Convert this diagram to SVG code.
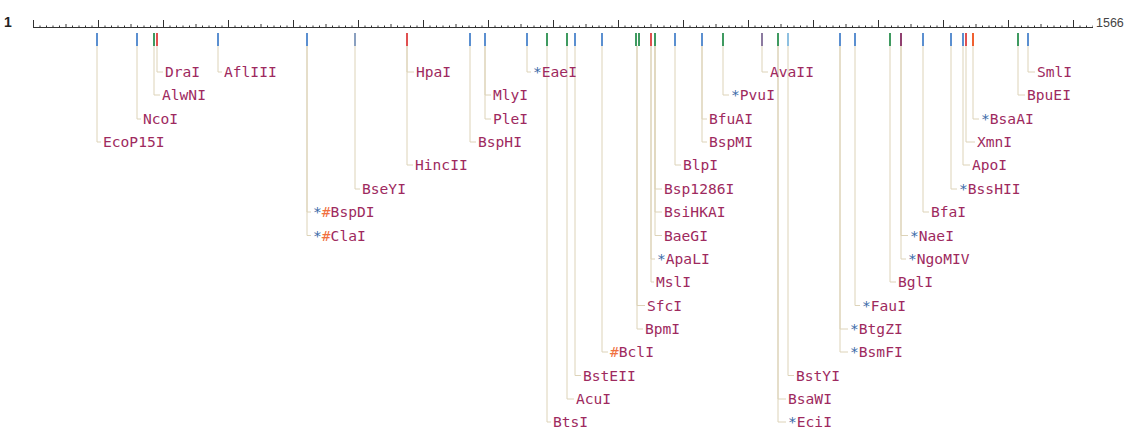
<svg xmlns="http://www.w3.org/2000/svg" width="1125" height="430" viewBox="0 0 1125 430">
<style>
.l{font-family:"DejaVu Sans Mono","Liberation Mono",monospace;font-size:14.6px;fill:#9e2a5e}
.s{fill:#3a6aa8}
.h{fill:#f07040}
.r{font-family:"Liberation Sans",Arial,sans-serif;font-size:12.5px;fill:#444}
.one{font-family:"Liberation Sans",Arial,sans-serif;font-size:14px;font-weight:bold;fill:#222}
.c{fill:none;stroke:#ddd3b8;stroke-width:1}
.t{stroke-width:2}
.b{stroke:#5b8fd0}.g{stroke:#3f9a60}.rd{stroke:#e05050}.p{stroke:#904070}.o{stroke:#f06030}.lb{stroke:#8ec0e0}.gb{stroke:#8aa0c0}.pg{stroke:#8c7aa0}
</style>
<defs>
<pattern id="ruler" patternUnits="userSpaceOnUse" x="33" y="19" width="65" height="9">
<path d="M0.5 1V8M7 6.5V8M13.5 6.5V8M20 6.5V8M26.5 6.5V8M33 5V8M39.5 6.5V8M46 6.5V8M52.5 6.5V8M59 6.5V8" stroke="#333" stroke-width="1"/>
</pattern>
</defs>
<rect width="1125" height="430" fill="#fff"/>
<g id="ruler-group">
<rect x="33" y="19" width="1060" height="9" fill="url(#ruler)"/>
<line x1="33" y1="27.5" x2="1093" y2="27.5" stroke="#333" stroke-width="1"/>
<text class="one" x="4" y="27">1</text>
<text class="r" x="1096" y="27">1566</text>
</g>
<g id="connectors">
<path class="c" d="M157 46V72H163M218 46V72H222M407 46V72H414M527 46V72H531M762 46V72H768M1028 46V72H1035"/>
<path class="c" d="M154 46V95H160M485 46V95H491M723 46V95H729M1018 46V95H1025"/>
<path class="c" d="M137 46V119H141M485 46V119H491M702 46V119H707M973 46V119H979"/>
<path class="c" d="M97 46V142H101M470 46V142H476M702 46V142H707M966 46V142H975"/>
<path class="c" d="M407 46V165H413M675 46V165H681M963 46V165H970"/>
<path class="c" d="M355 46V189H360M655 46V189H662M951 46V189H957"/>
<path class="c" d="M307 46V212H311M655 46V212H662M923 46V212H929"/>
<path class="c" d="M307 46V235.5H311M655 46V235.5H662M901 46V235.5H908"/>
<path class="c" d="M651 46V259H655M901 46V259H906"/>
<path class="c" d="M651 46V282H654M890 46V282H896"/>
<path class="c" d="M637 46V305.5H645M855 46V305.5H860"/>
<path class="c" d="M637 46V329H643M840 46V329H848"/>
<path class="c" d="M602 46V352H608M840 46V352H848"/>
<path class="c" d="M575 46V375.5H581M788 46V375.5H794"/>
<path class="c" d="M567 46V399H574M778 46V399H786"/>
<path class="c" d="M547 46V422H551M778 46V422H786"/>
<g class="t">
<path class="b" d="M97 33V46M137 33V46M218 33V46M307 33V46M470 33V46M485 33V46M527 33V46M575 33V46M602 33V46M675 33V46M702 33V46M840 33V46M855 33V46M923 33V46M951 33V46M963 33V46M1028 33V46"/>
<path class="g" d="M154 33V46M547 33V46M567 33V46M636 33V46M639 33V46M655 33V46M723 33V46M778 33V46M890 33V46M1018 33V46"/>
<path class="rd" d="M157 33V46M407 33V46M651 33V46M966 33V46"/>
<path class="o" d="M973 33V46"/>
<path class="p" d="M901 33V46"/>
<path class="lb" d="M788 33V46"/>
<path class="gb" d="M355 33V46"/>
<path class="pg" d="M762 33V46"/>
</g>
</g>
<g id="DraI"><text class="l" x="165" y="77">DraI</text></g>
<g id="AflIII"><text class="l" x="224" y="77">AflIII</text></g>
<g id="HpaI"><text class="l" x="416" y="77">HpaI</text></g>
<g id="EaeI"><text class="l" x="533" y="77"><tspan class="s">*</tspan>EaeI</text></g>
<g id="AvaII"><text class="l" x="770" y="77">AvaII</text></g>
<g id="SmlI"><text class="l" x="1037" y="77">SmlI</text></g>
<g id="AlwNI"><text class="l" x="162" y="100">AlwNI</text></g>
<g id="MlyI"><text class="l" x="493" y="100">MlyI</text></g>
<g id="PvuI"><text class="l" x="731" y="100"><tspan class="s">*</tspan>PvuI</text></g>
<g id="BpuEI"><text class="l" x="1027" y="100">BpuEI</text></g>
<g id="NcoI"><text class="l" x="143" y="124">NcoI</text></g>
<g id="PleI"><text class="l" x="493" y="124">PleI</text></g>
<g id="BfuAI"><text class="l" x="709" y="124">BfuAI</text></g>
<g id="BsaAI"><text class="l" x="981" y="124"><tspan class="s">*</tspan>BsaAI</text></g>
<g id="EcoP15I"><text class="l" x="103" y="147">EcoP15I</text></g>
<g id="BspHI"><text class="l" x="478" y="147">BspHI</text></g>
<g id="BspMI"><text class="l" x="709" y="147">BspMI</text></g>
<g id="XmnI"><text class="l" x="977" y="147">XmnI</text></g>
<g id="HincII"><text class="l" x="415" y="170">HincII</text></g>
<g id="BlpI"><text class="l" x="683" y="170">BlpI</text></g>
<g id="ApoI"><text class="l" x="972" y="170">ApoI</text></g>
<g id="BseYI"><text class="l" x="362" y="194">BseYI</text></g>
<g id="Bsp1286I"><text class="l" x="664" y="194">Bsp1286I</text></g>
<g id="BssHII"><text class="l" x="959" y="194"><tspan class="s">*</tspan>BssHII</text></g>
<g id="BspDI"><text class="l" x="313" y="217"><tspan class="s">*</tspan><tspan class="h">#</tspan>BspDI</text></g>
<g id="BsiHKAI"><text class="l" x="664" y="217">BsiHKAI</text></g>
<g id="BfaI"><text class="l" x="931" y="217">BfaI</text></g>
<g id="ClaI"><text class="l" x="313" y="240.5"><tspan class="s">*</tspan><tspan class="h">#</tspan>ClaI</text></g>
<g id="BaeGI"><text class="l" x="664" y="240.5">BaeGI</text></g>
<g id="NaeI"><text class="l" x="910" y="240.5"><tspan class="s">*</tspan>NaeI</text></g>
<g id="ApaLI"><text class="l" x="657" y="264"><tspan class="s">*</tspan>ApaLI</text></g>
<g id="NgoMIV"><text class="l" x="908" y="264"><tspan class="s">*</tspan>NgoMIV</text></g>
<g id="MslI"><text class="l" x="656" y="287">MslI</text></g>
<g id="BglI"><text class="l" x="898" y="287">BglI</text></g>
<g id="SfcI"><text class="l" x="647" y="310.5">SfcI</text></g>
<g id="FauI"><text class="l" x="862" y="310.5"><tspan class="s">*</tspan>FauI</text></g>
<g id="BpmI"><text class="l" x="645" y="334">BpmI</text></g>
<g id="BtgZI"><text class="l" x="850" y="334"><tspan class="s">*</tspan>BtgZI</text></g>
<g id="BclI"><text class="l" x="610" y="357"><tspan class="h">#</tspan>BclI</text></g>
<g id="BsmFI"><text class="l" x="850" y="357"><tspan class="s">*</tspan>BsmFI</text></g>
<g id="BstEII"><text class="l" x="583" y="380.5">BstEII</text></g>
<g id="BstYI"><text class="l" x="796" y="380.5">BstYI</text></g>
<g id="AcuI"><text class="l" x="576" y="404">AcuI</text></g>
<g id="BsaWI"><text class="l" x="788" y="404">BsaWI</text></g>
<g id="BtsI"><text class="l" x="553" y="427">BtsI</text></g>
<g id="EciI"><text class="l" x="788" y="427"><tspan class="s">*</tspan>EciI</text></g>
</svg>
